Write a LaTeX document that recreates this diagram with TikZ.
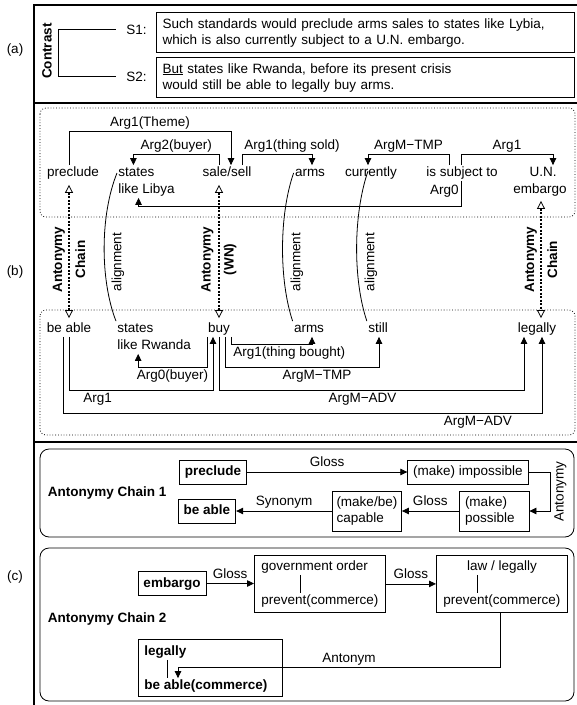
\documentclass[tikz,border=0pt]{standalone}
\usepackage{fontspec}
\setmainfont{Liberation Sans}
\usetikzlibrary{arrows.meta}
\newcommand{\picsize}{\fontsize{13.5}{16}\selectfont}
\newcommand{\chainsize}{\fontsize{13.5}{23}\selectfont}
\begin{document}
\begin{tikzpicture}[x=1pt,y=-1pt,line width=0.8pt,font=\picsize,
  >={Triangle[length=7pt,width=6.5pt]},
  word/.style={inner sep=1pt,text height=10pt,text depth=3pt},
  lab/.style={inner sep=2pt,text height=10pt,text depth=3pt},
  sent/.style={draw,line width=1.1pt,anchor=north west,align=left,text width=406pt,minimum height=40pt,inner xsep=6pt},
  bbox/.style={draw,inner sep=5.5pt,text height=10pt,text depth=3pt},
  tbox/.style={draw,align=left,inner ysep=5.5pt,minimum height=40pt},
  chain/.style={line width=2.2pt,dash pattern=on 2pt off 1.5pt,{Triangle[open,length=8pt,width=8pt,line width=0.8pt]}-{Triangle[open,length=8pt,width=8pt,line width=0.8pt]}},
  chainlab/.style={rotate=90,align=center,font=\bfseries\chainsize},
  panel/.style={draw,rounded corners=9pt}]
\useasboundingbox (0,0) rectangle (577,705);
\draw[line width=1.1pt] (577,5) -- (34,5) -- (34,705);
\draw[line width=1.1pt] (34,103) -- (577,103) (34,442) -- (577,442);
\node (pa) at (15,50) {(a)};
\node (pb) at (15,272) {(b)};
\node (pc) at (15,577) {(c)};

\node[sent] (s1box) at (156,12) {Such standards would preclude arms sales to states like Lybia,\\which is also currently subject to a U.N. embargo.};
\node[sent] (s2box) at (156,57) {\underline{But} states like Rwanda, before its present crisis\\would still be able to legally buy arms.};
\node[word,anchor=east] (s1) at (148,31) {S1:};
\node[word,anchor=east] (s2) at (148,78) {S2:};
\node[rotate=90,font=\bfseries\picsize] (contrast) at (47,51) {Contrast};
\draw ([xshift=-9pt,yshift=2pt]s1.west) -- ++(-58,0) |- ([xshift=-9pt,yshift=2pt]s2.west);

\draw[dotted,rounded corners=6pt] (40,108) rectangle (575,217);
\draw[dotted,rounded corners=6pt] (40,310) rectangle (575,435);
\node[word] (preclude) at (73,173) {preclude};
\node[word,anchor=west] (states) at (117,173) {states};
\node[word,anchor=west] (libya) at (117,190) {like Libya};
\node[word] (sale) at (227,173) {sale/sell};
\node[word] (arms) at (310,173) {arms};
\node[word] (currently) at (371,173) {currently};
\node[word] (subj) at (462,173) {is subject to};
\node[word] (un) at (543,173) {U.N.};
\node[word] (embargo) at (540,190) {embargo};
\draw[->] ([xshift=-4pt]preclude.north) -- ++(0,-33.5) -| node[lab,pos=0.25,above] {Arg1(Theme)} ([xshift=4pt]sale.north);
\draw[->] ([xshift=-8pt]sale.north) -- ++(0,-10.5) -| node[lab,pos=0.25,above] {Arg2(buyer)} ([xshift=-3pt]states.north);
\draw[->] ([xshift=15pt]sale.north) -- ++(0,-10.5) -| node[lab,pos=0,above right] {Arg1(thing sold)} ([xshift=2pt]arms.north);
\draw[->] ([xshift=-13pt]subj.north) -- ++(0,-10.5) -| node[lab,pos=0.25,above] {ArgM−TMP} ([xshift=-3pt]currently.north);
\draw[->] ([xshift=-1pt]subj.north) -- ++(0,-10.5) -| node[lab,pos=0.25,above] {Arg1} ([xshift=10pt]un.north);
\draw[->] ([xshift=-1pt]subj.south) -- ++(0,25.5) -| node[lab,pos=0,above left,yshift=7pt] {Arg0} ([xshift=-8pt]libya.south);

\node[word] (beable) at (69,329) {be able};
\node[word,anchor=west] (statesr) at (116,329) {states};
\node[word,anchor=west] (rwanda) at (116,346) {like Rwanda};
\node[word] (buy) at (219,329) {buy};
\node[word] (armsb) at (309,329) {arms};
\node[word] (still) at (378,329) {still};
\node[word] (legally) at (537,329) {legally};
\draw[->] ([xshift=12pt]buy.south) -- ++(0,7.5) -| node[lab,pos=0,below right] {Arg1(thing bought)} ([xshift=3pt]armsb.south);
\draw[->] ([xshift=-12pt]buy.south) -- ++(0,30.5) -| node[lab,pos=0.25,below] {Arg0(buyer)} ([xshift=-16pt]rwanda.south);
\draw[->] ([xshift=6pt]buy.south) -- ++(0,30.5) -| node[lab,pos=0.25,below,xshift=15pt] {ArgM−TMP} ([xshift=1pt]still.south);
\draw[->] (buy.south) -- ++(0,53.5) -| node[lab,pos=0.25,below,xshift=-9pt] {ArgM−ADV} ([xshift=-13pt]legally.south);
\draw[->] (beable.south) -- ++(0,53.5) -| node[lab,pos=0,below right,xshift=12pt] {Arg1} ([xshift=-6pt]buy.south);
\draw[->] ([xshift=-6pt]beable.south) -- ++(0,76.5) -| node[lab,pos=0.433,below] {ArgM−ADV} ([xshift=5pt]legally.south);

\draw[chain] ([xshift=-4pt,yshift=-4pt]preclude.south) -- node[chainlab,pos=0.56] {Antonymy\\Chain} ([yshift=3pt]beable.north);
\draw[chain] ([xshift=-8pt,yshift=-4pt]sale.south) -- node[chainlab,pos=0.56] {Antonymy\\(WN)} ([yshift=3pt]buy.north);
\draw[chain] ([xshift=1pt,yshift=-3pt]embargo.south) -- node[chainlab,pos=0.5] {Antonymy\\Chain} ([xshift=4pt,yshift=3pt]legally.north);
\draw (states.west) .. controls (100,215) and (100,280) .. (statesr.north west);
\draw (arms.west) .. controls (279,215) and (279,280) .. (armsb.north west);
\draw ([xshift=-3pt,yshift=2pt]currently.center) .. controls (353,215) and (353,280) .. (still.north west);
\node[rotate=90] (al1) at (118,262) {alignment};
\node[rotate=90] (al2) at (297,262) {alignment};
\node[rotate=90] (al3) at (371,262) {alignment};

\draw[panel] (40,449) rectangle (574,537);
\draw[panel] (40,548) rectangle (574,701);
\node[word,anchor=west,font=\bfseries\picsize] (c1) at (46.5,493) {Antonymy Chain 1};
\node[bbox,font=\bfseries\picsize] (pre) at (213,472) {preclude};
\node[bbox] (imp) at (468,472) {(make) impossible};
\node[tbox,text width=58pt,inner xsep=6pt] (poss) at (494,511) {(make)\\possible};
\node[tbox,text width=61pt,inner xsep=4pt] (cap) at (367,511) {(make/be)\\capable};
\node[bbox,font=\bfseries\picsize] (able) at (207,511) {be able};
\draw[->] (pre) -- node[lab,above] {Gloss} (imp);
\draw[->] (imp.east) -- ++(22,0) |- node[pos=0.25,rotate=90,anchor=north] {Antonymy} (poss.east);
\draw[->] (poss) -- node[lab,above] {Gloss} (cap);
\draw[->] (cap) -- node[lab,above] {Synonym} (able);

\node[word,anchor=west,font=\bfseries\picsize] (c2) at (46.5,619) {Antonymy Chain 2};
\node[bbox,font=\bfseries\picsize] (emb) at (172,583.5) {embargo};
\node[draw,anchor=north west,minimum width=131pt,minimum height=57pt] (govbox) at (254,555) {};
\node[word,anchor=west] (gov1) at (260,567) {government order};
\node[word,anchor=west] (gov2) at (260,601) {prevent(commerce)};
\draw ([xshift=40pt]gov1.south west) -- ([xshift=40pt]gov2.north west);
\node[draw,anchor=north west,minimum width=131pt,minimum height=57pt] (lawbox) at (436,555) {};
\node[word] (law1) at (502,567) {law / legally};
\node[word,anchor=west] (law2) at (442,601) {prevent(commerce)};
\draw ([xshift=-25pt]law1.south) -- ([xshift=35pt]law2.north west);
\draw[->] (emb) -- node[lab,above] {Gloss} (emb -| govbox.west);
\draw[->] (govbox) -- node[lab,above] {Gloss} (lawbox);
\node[draw,anchor=north west,minimum width=144pt,minimum height=57pt] (legbox) at (138,639) {};
\node[word,anchor=west,font=\bfseries\picsize] (leg) at (143,652) {legally};
\node[word,anchor=west,font=\bfseries\picsize] (bea) at (143,686) {be able(commerce)};
\draw ([xshift=24pt]leg.south west) -- ([xshift=24pt]bea.north west);
\draw[->] ([xshift=-2pt]lawbox.south) -- ++(0,55) -| node[lab,pos=0.25,above,xshift=10pt] {Antonym} ([xshift=35pt]bea.north west);
\end{tikzpicture}
\end{document}
